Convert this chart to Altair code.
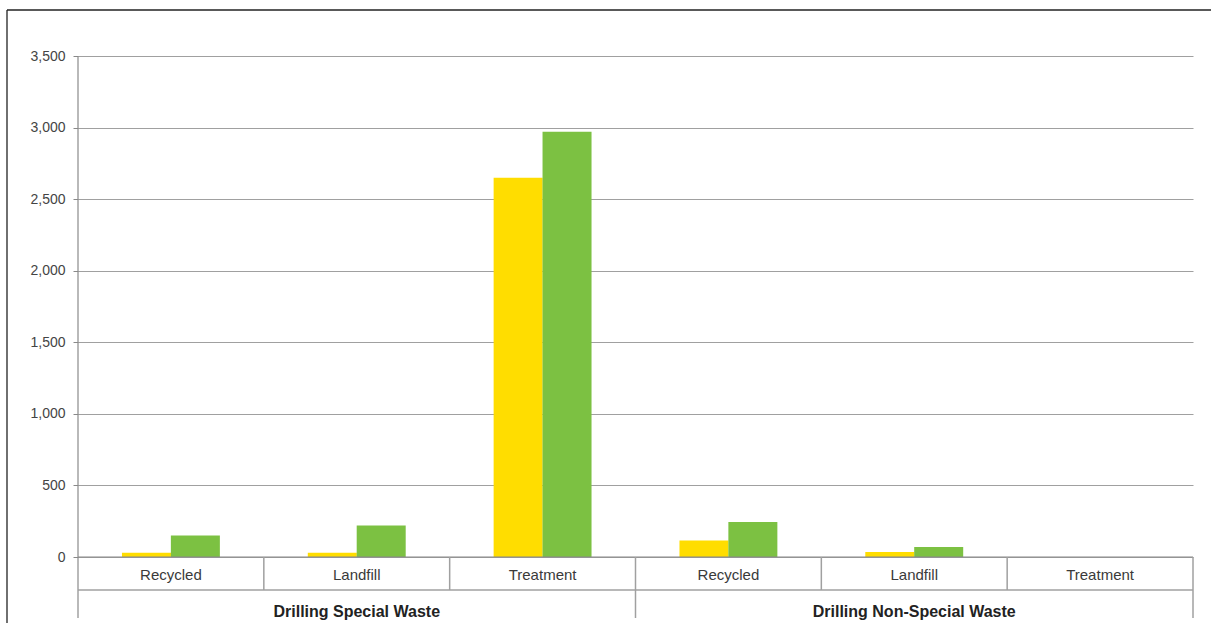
import altair as alt
import pandas as pd

# Waste volumes by disposal route, two reporting periods
groups = ["Drilling Special Waste", "Drilling Non-Special Waste"]
methods = ["Recycled", "Landfill", "Treatment"]
series = ["Prior year", "Current year"]
prior_values = [30, 30, 2650, 115, 35, 0]
current_values = [150, 220, 2970, 245, 70, 0]
y_ticks = [0, 500, 1000, 1500, 2000, 2500, 3000, 3500]
series_colors = ["#FFDD00", "#7CC142"]

W, H = 1115, 501
FONT = "Liberation Sans"
LINE = "#a0a0a0"

cells = [(g, m) for g in groups for m in methods]
keys = [f"{g}|{m}" for g, m in cells]

bars_df = pd.DataFrame({
    "key": keys * 2,
    "series": [series[0]] * len(keys) + [series[1]] * len(keys),
    "value": prior_values + current_values,
})
cat_df = pd.DataFrame({
    "key": keys,
    "group": [g for g, _ in cells],
    "method": [m for _, m in cells],
})
one = pd.DataFrame({"k": [0]})

band = alt.Scale(type="band", paddingInner=0, paddingOuter=0)


def xkey(pos=0.5):
    return alt.X("key:N", sort=keys, scale=band, axis=None, bandPosition=pos)


bars = alt.Chart(bars_df).mark_bar(size=49).encode(
    x=alt.X("key:N", sort=keys, scale=band, axis=None),
    xOffset=alt.XOffset("series:N", sort=series,
                        scale=alt.Scale(paddingOuter=0.9, paddingInner=0)),
    y=alt.Y("value:Q",
            scale=alt.Scale(domain=[0, 3500], nice=False),
            axis=alt.Axis(values=y_ticks, format=",.0f", title=None, grid=True,
                          gridColor=LINE, gridWidth=1, domain=False,
                          tickColor="#888", tickSize=5, labelPadding=8,
                          labelFont=FONT, labelFontSize=14,
                          labelColor="#444")),
    color=alt.Color("series:N", sort=series,
                    scale=alt.Scale(domain=series, range=series_colors),
                    legend=None),
)

# table under the plot: category row and group row
cat_text = alt.Chart(cat_df).mark_text(
    font=FONT, fontSize=15, color="#3a3a3a", baseline="middle"
).encode(x=xkey(), y=alt.value(H + 18), text="method:N")

group_text = alt.Chart(cat_df[cat_df["method"] == methods[1]]).mark_text(
    font=FONT, fontSize=16, fontWeight="bold", color="#222", baseline="middle"
).encode(x=xkey(), y=alt.value(H + 55), text="group:N")

short_sep = alt.Chart(cat_df[cat_df["method"] != methods[0]]).mark_rule(
    color=LINE, strokeWidth=1.5
).encode(x=xkey(0), y=alt.value(H), y2=alt.value(H + 33))

long_sep = alt.Chart(cat_df[cat_df["method"] == methods[0]].iloc[1:]).mark_rule(
    color=LINE, strokeWidth=1.5
).encode(x=xkey(0), y=alt.value(H), y2=alt.value(H + 61))

edges = alt.Chart(one).mark_rule(color="#8a8a8a", strokeWidth=1.2).encode(
    x=alt.value(0), y=alt.value(0), y2=alt.value(H + 61))
right_edge = alt.Chart(one).mark_rule(color=LINE, strokeWidth=1.5).encode(
    x=alt.value(W), y=alt.value(H), y2=alt.value(H + 61))
row_line = alt.Chart(one).mark_rule(color=LINE, strokeWidth=1.5).encode(
    x=alt.value(0), x2=alt.value(W), y=alt.value(H + 33))
base_line = alt.Chart(one).mark_rule(color="#888", strokeWidth=1.2).encode(
    x=alt.value(0), x2=alt.value(W), y=alt.value(H))

# outer frame
frame_top = alt.Chart(one).mark_rule(color="#222", strokeWidth=1.3).encode(
    x=alt.value(-71), x2=alt.value(W + 18), y=alt.value(-46))
frame_left = alt.Chart(one).mark_rule(color="#222", strokeWidth=1.3).encode(
    x=alt.value(-71), y=alt.value(-46), y2=alt.value(H + 66))

chart = alt.layer(
    bars, base_line, cat_text, group_text, short_sep, long_sep,
    edges, right_edge, row_line, frame_top, frame_left,
).properties(
    width=W, height=H,
    autosize="none",
    padding={"left": 78, "top": 56, "right": 18, "bottom": 66},
    background="white",
).configure_view(stroke=None)

chart.save("out.html", embed_options={"renderer": "svg", "actions": False})
